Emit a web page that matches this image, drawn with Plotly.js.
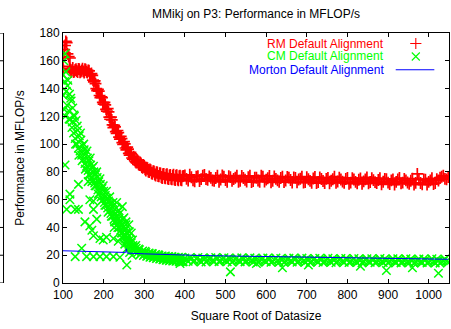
<!DOCTYPE html>
<html>
<head>
<meta charset="utf-8">
<script src="https://cdn.plot.ly/plotly-3.0.1.min.js"></script>
<style>html,body{margin:0;padding:0;background:#fff;}#chart{width:451px;height:329px;}</style>
</head>
<body>
<div id="chart"></div>
<script>
// ---- data ----
const titleText = "MMikj on P3: Performance in MFLOP/s";
const xTitle = "Square Root of Datasize";
const yTitle = "Performance in MFLOP/s";
const seriesNames = ["RM Default Alignment", "CM Default Alignment", "Morton Default Alignment"];
const xTicks = [100, 200, 300, 400, 500, 600, 700, 800, 900, 1000];
const yTicks = [0, 20, 40, 60, 80, 100, 120, 140, 160, 180];

const rmX = [100,101,101,103,105,107,109,111,114,117,
  116,120,124,128,132,136,140,144,148,152,156,160,164,168,172,176,180,184,188,192,196,200,204,208,212,216,220,224,228,232,236,240,244,248,252,256,260,264,268,272,276,280,284,288,292,296,300,304,308,312,316,320,324,328,332,336,340,344,348,352,356,360,364,368,372,376,380,384,388,392,396,
  400,408,416,424,432,440,448,456,464,472,480,488,496,504,512,520,528,536,544,552,560,568,576,584,592,600,608,616,624,632,640,648,656,664,672,680,688,696,704,712,720,728,736,744,752,760,768,776,784,792,800,808,816,824,832,840,848,856,864,872,880,888,896,904,912,920,928,936,944,952,960,968,976,984,992,1000,1008,1016,1024,1032,1040,1048];
const rmY = [156,153,163,168,171,174,173,165,163,162,
  154.5,152.0,154.8,152.3,154.0,151.8,153.9,152.2,154.3,151.6,153.6,151.5,152.8,149.6,149.5,144.8,143.5,138.5,138.2,133.4,133.5,128.8,128.2,123.8,123.2,117.9,117.4,111.9,112.4,107.8,108.3,103.6,104.0,99.8,100.1,95.9,96.4,92.0,93.0,89.1,90.0,86.8,88.0,84.9,86.1,83.0,84.2,81.0,82.6,79.9,81.3,78.6,80.4,77.4,79.6,76.8,78.9,75.6,78.6,75.4,78.3,74.9,77.8,74.6,77.9,74.1,77.6,74.0,77.3,73.9,77.1,
  77.5,73.7,76.1,73.2,76.9,74.8,77.8,74.3,75.7,73.5,77.3,74.5,76.6,72.9,76.2,74.9,77.3,73.6,75.6,73.1,77.2,73.4,75.8,72.9,76.6,74.4,77.1,73.6,75.0,72.8,76.6,73.8,75.9,72.4,75.7,74.5,76.6,72.7,74.7,72.2,76.3,72.7,74.9,72.0,75.7,73.6,76.6,73.1,74.5,72.2,75.7,72.3,74.5,71.8,75.3,73.2,76.0,72.7,74.1,71.9,75.5,72.9,74.8,71.3,74.6,72.8,75.6,72.3,73.9,71.5,75.1,72.1,74.4,71.1,74.4,72.8,75.4,72.0,73.8,76.5,75.0,76.2];

// RM measurements lying between the ones above
const rmX2 = [118,122,126,130,134,138,142,146,150,154,158,162,166,170,174,178,182,186,190,194,198,202,206,210,214,218,222,226,230,234,238,242,246,250,254,258,262,266,270,274,278,282,286,290,294,298,302,306,310,314,318,322,326,330,334,338,342,346,350,354,358,362,366,370,374,378,382,386,390,394,
  404,412,420,428,436,444,452,460,468,476,484,492,500,508,516,524,532,540,548,556,564,572,580,588,596,604,612,620,628,636,644,652,660,668,676,684,692,700,708,716,724,732,740,748,756,764,772,780,788,796,804,812,820,828,836,844,852,860,868,876,884,892,900,908,916,924,932,940,948,956,964,972,980,988,996,1004,1012,1020,1028,1036,1044];
const rmY2 = [153.5,153.2,151.9,153.4,152.6,154.1,151.7,153.0,152.4,154.0,152.1,153.0,150.5,150.8,146.0,145.5,140.0,139.5,135.0,134.0,130.0,130.0,125.0,125.5,119.5,119.5,113.8,113.5,109.0,109.8,105.0,105.5,101.0,101.8,97.2,97.8,93.3,94.0,90.0,91.0,87.5,88.6,85.5,86.8,83.5,85.0,81.8,83.0,80.3,81.8,79.0,80.5,78.0,79.8,77.0,79.0,76.2,78.3,75.8,78.0,75.2,77.5,75.0,77.3,74.6,77.2,74.5,76.9,74.3,76.8,
  75.0,77.9,74.0,76.5,73.4,77.2,74.9,76.8,73.9,75.6,72.8,77.4,74.2,76.9,73.5,75.8,72.9,77.0,74.3,76.2,72.7,75.9,73.8,77.3,73.0,75.4,72.5,76.8,73.9,75.6,72.6,76.3,74.2,76.0,72.5,75.1,72.3,76.2,73.5,75.2,71.9,76.0,73.4,75.0,71.8,74.7,72.2,75.8,73.0,74.9,71.5,75.5,72.8,74.3,71.4,74.6,71.8,75.4,72.6,74.2,71.0,75.0,72.3,73.9,70.9,74.6,71.7,75.0,72.4,73.6,70.8,78.6,72.0,74.6,70.9,73.9,71.3,74.8,75.8,77.2,74.6];

const cmX = [100,101,102,103,104,105,106,107,108,
  110,112,114,116,118,120,122,124,126,128,130,132,134,136,138,140,142,144,146,148,150,152,154,156,158,160,162,164,166,168,170,172,174,176,178,180,182,184,186,188,190,192,194,196,198,200,202,204,206,208,210,212,214,216,218,220,222,224,226,228,230,232,234,236,238,240,242,244,246,248,250,252,254,256,258,260,262,264,266,268,270,272,274,276,278,280,
  284,288,292,296,300,304,308,312,316,320,324,328,332,336,340,344,348,352,356,360,364,368,372,376,380,384,388,392,396,
  400,408,416,424,432,440,448,456,464,472,480,488,496,504,512,520,528,536,544,552,560,568,576,584,592,600,608,616,624,632,640,648,656,664,672,680,688,696,704,712,720,728,736,744,752,760,768,776,784,792,800,808,816,824,832,840,848,856,864,872,880,888,896,904,912,920,928,936,944,952,960,968,976,984,992,1000,1008,1016,1024,1032,1040,1048];
const cmY = [150,135,160,125,145,165,120,152,138,
  128,146,124,136,118,131,112,126,108,120,104,117,100,110,97,106,95,103,92,99,89,96,86,93,84,90,81,88,78,85,76,83,74,80,72,78,70,76,67,73,65,71,62,68,60,66,58,63,56,61,54,59,52,57,50,55,48,52,46,50,44,48,42,46,40,44,38,42,36,40,34,38,32,36,30,33,28,31,26,29,25,27,23.5,26,22.5,25,
  22,24,21,23,20.5,22,19.5,21.5,19,21,18.5,20.5,18,20,17.5,19.5,17,19.5,16.5,19,16.5,19,16,18.5,16,18.5,15.5,18.5,15.5,
  18.0,15.6,17.4,16.0,18.3,15.2,17.0,16.4,18.1,15.5,17.6,15.9,18.2,15.3,16.9,16.2,18.0,15.4,17.3,15.8,18.1,15.1,16.8,16.0,17.9,15.3,17.2,15.7,18.0,15.0,16.7,16.1,17.8,15.2,17.1,15.6,17.9,14.9,16.6,15.9,17.7,15.1,17.0,15.5,17.8,14.9,16.5,15.8,17.6,15.0,16.9,15.4,17.7,14.8,16.4,15.7,17.5,14.9,16.8,15.3,17.6,14.7,16.3,15.6,17.4,14.8,16.7,15.2,17.5,14.6,16.2,15.5,17.3,14.7,16.6,15.1,17.4,14.5,16.1,15.4,17.2,15.0];

// CM measurements lying between the ones above
const cmX2 = [111,115,119,123,127,131,135,139,143,147,151,155,159,163,167,171,175,179,183,187,191,195,199,203,207,211,215,219,223,227,231,235,239,243,247,251,255,259,263,267,271,275,279,
  286,290,294,298,302,306,310,314,318,322,326,330,334,338,342,346,350,354,358,362,366,370,374,378,382,386,390,394,
  404,412,420,428,436,444,452,460,468,476,484,492,500,508,516,524,532,540,548,556,564,572,580,588,596,604,612,620,628,636,644,652,660,668,676,684,692,700,708,716,724,732,740,748,756,764,772,780,788,796,804,812,820,828,836,844,852,860,868,876,884,892,900,908,916,924,932,940,948,956,964,972,980,988,996,1004,1012,1020,1028,1036,1044];
const cmY2 = [142,118,133,116,121,100,113,92,108,88,100,82,95,78,90,73,84,70,80,64,75,59,70,56,66,51,62,48,58,44,54,40,50,36,46,33,42,29,37,26,31,24,27,
  24.5,20.5,22.5,19.8,22.8,19.2,21.3,18.6,21.2,18.2,20.2,17.6,20.3,17.3,19.2,16.8,19.0,16.4,18.8,16.0,18.6,15.8,18.3,15.7,18.0,15.4,18.1,15.2,
  16.8,18.2,15.3,17.5,16.2,18.0,15.1,17.2,16.0,18.3,15.4,16.9,16.3,17.9,15.0,17.1,16.1,18.1,15.2,16.7,16.4,17.8,14.9,16.9,15.9,18.0,15.0,16.6,16.2,17.7,14.8,16.9,15.8,17.9,14.9,16.5,16.0,17.6,14.7,16.8,15.6,17.8,14.8,16.3,15.9,17.5,14.6,16.6,15.5,17.6,14.7,16.2,15.7,17.4,14.5,16.5,15.4,17.5,14.6,16.1,15.5,17.3,14.4,16.4,15.2,17.4,14.5,16.0,15.4,17.2,14.3,16.3,15.0,17.3,14.4,15.9,15.3,17.1,14.3,16.1,15.6];

// CM scattered low outliers
const cmOutX = [105,109,117,117,130,138,138,154,162,166,166,171,175,175,175,183,191,199,207,224,257,130,146,158,175,191,207,224,240,257,232,238,246,250,255,262,268,226,244,252,258,264,270,236,388,512,576,640,704,832,896,960,1024];
const cmOutY = [85,53,64,60,53,71,53,44,73,60,41,38,59,53,34,46,32,31,33,32,31,19,25,19,19,19,19,19,18.5,13,58,52,55,47,44,42,36,40,33,28,25,22,20,30,14,8,14,11,13,12,9,11,7];

const mortonX = [100,150,200,254,256,258,300,350,400,450,500,600,700,800,900,1000,1048];
const mortonY = [23.2,22.8,22.4,22.0,24.6,21.5,21.0,20.4,20.0,19.7,19.5,19.0,18.6,18.2,17.8,17.4,17.1];

// ---- styling ----
const RED = "#ff0000", GREEN = "#00ff00", BLUE = "#0000ff";
const FONT = "Liberation Sans, Arial, Helvetica, sans-serif";

// legend geometry (paper fractions of the plot area)
const legRowY = [0.958, 0.906, 0.853];
const legTextX = 0.838;
const legSymX = 0.914;
const legLineX = [0.862, 0.962];

const rmMarker = {symbol: "cross-thin", size: 8.5, color: RED, line: {color: RED, width: 1.7}};
const cmMarker = {symbol: "x-thin", size: 8.5, color: GREEN, line: {color: GREEN, width: 1.5}};

const traces = [
  {x: rmX.concat(rmX2), y: rmY.concat(rmY2), type: "scatter", mode: "markers", name: seriesNames[0], showlegend: false, marker: rmMarker},
  {x: cmX.concat(cmX2, cmOutX), y: cmY.concat(cmY2, cmOutY), type: "scatter", mode: "markers", name: seriesNames[1], showlegend: false, marker: cmMarker},
  {x: mortonX, y: mortonY, type: "scatter", mode: "lines", name: seriesNames[2], showlegend: false,
   line: {color: BLUE, width: 1}},
  // legend samples on an overlay 0..1 axis pair
  {x: [legSymX], y: [legRowY[0]], xaxis: "x2", yaxis: "y2", mode: "markers", showlegend: false, hoverinfo: "skip",
   marker: {symbol: "cross-thin", size: 8, color: RED, line: {color: RED, width: 1.1}}},
  {x: [legSymX], y: [legRowY[1]], xaxis: "x2", yaxis: "y2", mode: "markers", showlegend: false, hoverinfo: "skip",
   marker: {symbol: "x-thin", size: 8, color: GREEN, line: {color: GREEN, width: 1.1}}},
  {x: legLineX, y: [legRowY[2], legRowY[2]], xaxis: "x2", yaxis: "y2", mode: "lines", showlegend: false, hoverinfo: "skip",
   line: {color: BLUE, width: 1}}
];

const colors = [RED, GREEN, BLUE];
const annotations = seriesNames.map((n, i) => ({
  text: n, xref: "paper", yref: "paper", x: legTextX, y: legRowY[i],
  xanchor: "right", yanchor: "middle", showarrow: false,
  font: {family: FONT, size: 12, color: colors[i]}
}));

// neighbouring plot's right border visible at the far left edge
const nbX = -0.1541, nbTick = -0.1632;
const shapes = [{type: "line", xref: "paper", yref: "y", x0: nbX, x1: nbX, y0: 0, y1: 180,
  line: {color: "#000", width: 1}}].concat(yTicks.map(v => ({
  type: "line", xref: "paper", yref: "y", x0: nbTick, x1: nbX, y0: v, y1: v, line: {color: "#000", width: 1}})));

const axisCommon = {
  showline: true, linecolor: "#000", linewidth: 1, mirror: "ticks",
  ticks: "inside", ticklen: 4, tickcolor: "#000", tickwidth: 1,
  showgrid: false, zeroline: false,
  tickfont: {family: FONT, size: 12, color: "#000"}
};

const layout = {
  width: 451, height: 329,
  margin: {l: 63, r: 2, t: 33, b: 46, pad: 0},
  paper_bgcolor: "#fff", plot_bgcolor: "#fff",
  font: {family: FONT, size: 12, color: "#000"},
  title: {text: titleText, font: {family: FONT, size: 12, color: "#000"},
          x: 0.5, xref: "paper", y: 0.957, yref: "container", yanchor: "middle"},
  xaxis: Object.assign({}, axisCommon, {range: [100, 1050], tickvals: xTicks, ticklabelstandoff: 1,
          title: {text: xTitle, font: {family: FONT, size: 12, color: "#000"}, standoff: 10}}),
  yaxis: Object.assign({}, axisCommon, {range: [0, 180], tickvals: yTicks,
          title: {text: yTitle, font: {family: FONT, size: 12, color: "#000"}, standoff: 12}}),
  xaxis2: {overlaying: "x", range: [0, 1], visible: false},
  yaxis2: {overlaying: "y", range: [0, 1], visible: false},
  annotations: annotations,
  shapes: shapes,
  showlegend: false
};

Plotly.newPlot("chart", traces, layout, {staticPlot: true, displayModeBar: false});
</script>
</body>
</html>
